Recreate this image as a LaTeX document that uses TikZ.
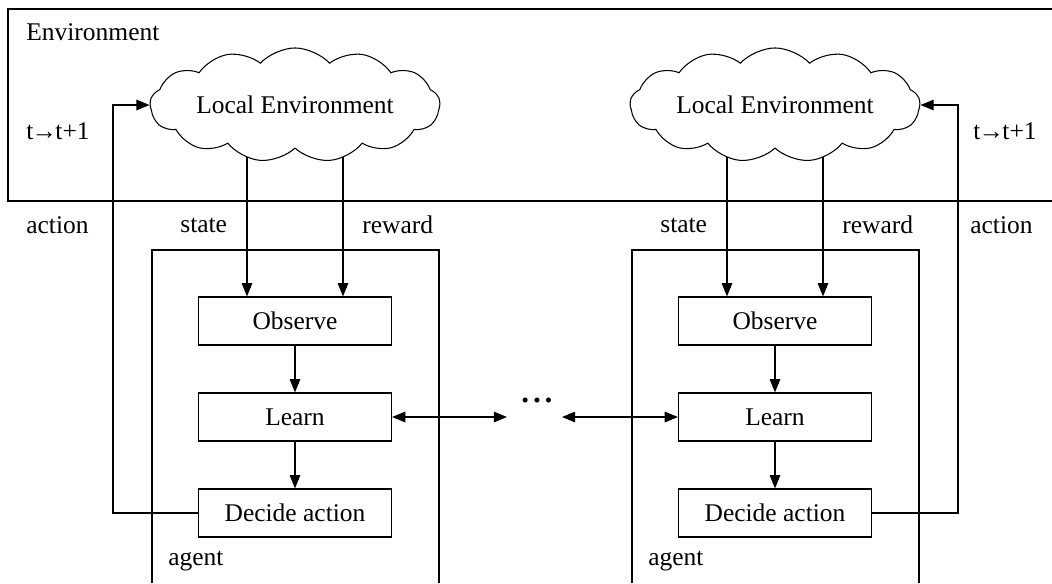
\documentclass[tikz,border=0pt]{standalone}
\usepackage{fontspec}
\setmainfont{Liberation Serif}
\usetikzlibrary{shapes.symbols,arrows.meta,backgrounds}

\tikzset{
  stepbox/.style={draw,line width=.7pt,minimum width=3.86cm,minimum height=.96cm,inner sep=0pt},
  localenv/.style={cloud,draw,fill=white,line width=.6pt,cloud puffs=13,cloud puff arc=95,aspect=3.2,minimum width=5.8cm,minimum height=1.92cm,inner sep=0pt},
  lbl/.style={inner sep=0pt,anchor=west},
  flow/.style={line width=.7pt,-{Triangle[length=7.5pt,width=6pt]}},
  swap/.style={line width=.7pt,{Triangle[length=7.5pt,width=6pt]}-{Triangle[length=7.5pt,width=6pt]}},
}

\begin{document}
\begin{tikzpicture}[x=0.02cm,y=-0.02cm,font=\fontsize{14.5}{17}\selectfont]
        	\useasboundingbox (0,0) rectangle (1052,583);
        	% environment frame, open on the right
        	\draw[line width=.7pt] (1052,9) -| (8,201) -- (1052,201);
        	\node[lbl] (envlbl) at (26,32) {Environment};
        	\node[lbl] (tickl) at (26,131) {t\kern-1pt→\kern-1pt t+1};
        	\node[lbl] (tickr) at (973,131) {t\kern-1pt→\kern-1pt t+1};
        	\node[lbl] (actl) at (26,225) {action};
        	\node[lbl] (actr) at (970,225) {action};
        	\foreach \i/\x in {0/0,1/480} {
        		\node[localenv] (cloud\i) at (295+\x,105) {Local Environment};
        		\node[stepbox] (obs\i) at (295+\x,321) {Observe};
        		\node[stepbox] (learn\i) at (295+\x,417) {Learn};
        		\node[stepbox] (dec\i) at (295+\x,513) {Decide action};
        		\coordinate (st\i) at (247+\x,0);
        		\coordinate (rw\i) at (343+\x,0);
        		\node[lbl] (stl\i) at (180+\x,225) {state};
        		\node[lbl] (rwl\i) at (362+\x,225) {reward};
        		\node[lbl] (agl\i) at (168+\x,561) {agent};
        		% agent frame, open at the bottom
        		\draw[line width=.7pt] (152+\x,583) |- (439+\x,250) -- (439+\x,583);
        		\draw[flow] (obs\i) -- (learn\i);
        		\draw[flow] (learn\i) -- (dec\i);
        		\begin{pgfonlayer}{background}
        			\draw[flow] (st\i |- cloud\i.center) -- (st\i |- obs\i.north);
        			\draw[flow] (rw\i |- cloud\i.center) -- (rw\i |- obs\i.north);
        		\end{pgfonlayer}
        	}
        	% actions fed back to the environment
        	\coordinate (fbl) at (113,0);
        	\coordinate (fbr) at (958,0);
        	\draw[flow] (dec0.west) -- (fbl |- dec0.west) |- (cloud0.west);
        	\draw[flow] (dec1.east) -- (fbr |- dec1.east) |- (cloud1.east);
        	% exchange between the learners
        	\node[inner sep=0pt,font=\fontsize{12}{12}\selectfont] (more) at (537,403) {•\hspace{2.4pt}•\hspace{2.4pt}•};
        	\coordinate (moreL) at (507,417);
        	\coordinate (moreR) at (562,417);
        	\draw[swap] (learn0.east) -- (moreL);
        	\draw[swap] (moreR) -- (learn1.west);
\end{tikzpicture}
\end{document}
